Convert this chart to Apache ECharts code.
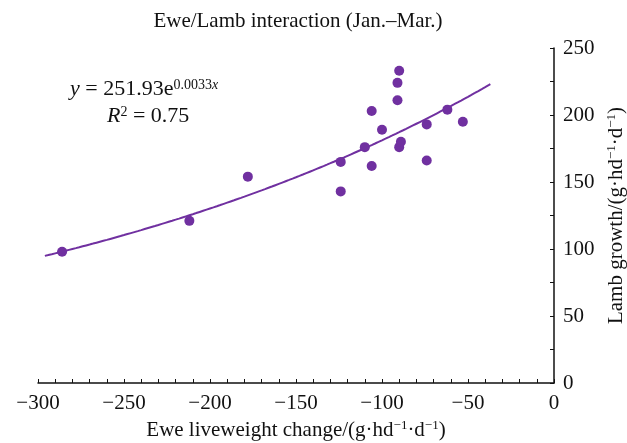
<!DOCTYPE html>
<html>
<head>
<meta charset="utf-8">
<script src="https://cdn.jsdelivr.net/npm/echarts@6/dist/echarts.min.js"></script>
<style>
  html, body { margin: 0; padding: 0; background: #fff; }
  #chart { width: 627px; height: 443px; }
</style>
</head>
<body>
<div id="chart"></div>
<script>
// Ewe liveweight change (g/hd/d) and lamb growth (g/hd/d)
const eweChange = [-286, -212, -178, -124, -124, -110, -106, -106, -100, -91, -91, -90, -90, -89, -74, -74, -62, -53];
const lambGrowth = [98, 121, 154, 165, 143, 176, 203, 162, 189, 224, 211, 233, 176, 180, 193, 166, 204, 195];

// fitted trend: y = 251.93 e^(0.0033 x), drawn over the range shown
const fitA = 251.93;
const fitB = 0.0033;
const fitRange = [-296, -37];

const color = '#7030a0';
const font = 'Liberation Serif';
const fs = 21;

const chart = echarts.init(document.getElementById('chart'));

const points = eweChange.map((x, i) => [x, lambGrowth[i]]);
const trend = [];
for (let x = fitRange[0]; x <= fitRange[1]; x += 1) {
    trend.push([x, fitA * Math.exp(fitB * x)]);
}

const minus = (v) => (v < 0 ? '\u2212' + (-v) : String(v));
const supRich = {
    s: { fontFamily: font, fontSize: 13, verticalAlign: 'top', padding: [0, 0, 9, 0], color: '#111' }
};

chart.setOption({
    animation: false,
    title: {
        text: 'Ewe/Lamb interaction (Jan.\u2013Mar.)',
        left: 293,
        textAlign: 'center',
        top: 6,
        textStyle: { fontFamily: font, fontSize: fs, fontWeight: 'normal', color: '#111' }
    },
    grid: { left: 38, right: 73, top: 48, bottom: 60, outerBoundsMode: 'none' },
    xAxis: {
        type: 'value',
        min: -300,
        max: 0,
        interval: 50,
        name: 'Ewe liveweight change/(g\u00b7hd{s|\u22121}\u00b7d{s|\u22121})',
        nameLocation: 'middle',
        nameGap: 36,
        nameTextStyle: { fontFamily: font, fontSize: fs, color: '#111', rich: supRich },
        splitLine: { show: false },
        axisLine: { onZero: false, lineStyle: { color: '#111', width: 1.5 } },
        axisTick: { inside: true, length: 4, lineStyle: { color: '#111' } },
        minorTick: { show: true, splitNumber: 5, length: 4, lineStyle: { color: '#111' } },
        axisLabel: { formatter: minus, fontFamily: font, fontSize: fs, color: '#111', margin: 10 }
    },
    yAxis: {
        type: 'value',
        position: 'right',
        min: 0,
        max: 250,
        interval: 50,
        name: 'Lamb growth/(g\u00b7hd{s|\u22121}\u00b7d{s|\u22121})',
        nameLocation: 'middle',
        nameRotate: 90,
        nameGap: 50,
        nameTextStyle: { fontFamily: font, fontSize: fs, color: '#111', rich: supRich },
        splitLine: { show: false },
        axisLine: { show: true, onZero: false, lineStyle: { color: '#111', width: 1.5 } },
        axisTick: { inside: true, length: 4, lineStyle: { color: '#111' } },
        minorTick: { show: true, splitNumber: 2, length: 4, lineStyle: { color: '#111' } },
        axisLabel: { fontFamily: font, fontSize: fs, color: '#111', margin: 9 }
    },
    graphic: [
        {
            type: 'text',
            left: 70,
            top: 78,
            style: {
                text: '{i|y} = 251.93e{s|0.0033}{si|x}',
                fontFamily: font,
                fontSize: 22,
                fill: '#111',
                rich: {
                    i: { fontFamily: font, fontSize: 22, fontStyle: 'italic' },
                    s: { fontFamily: font, fontSize: 14, verticalAlign: 'top', padding: [0, 0, 9, 0] },
                    si: { fontFamily: font, fontSize: 14, fontStyle: 'italic', verticalAlign: 'top', padding: [0, 0, 9, 0] }
                }
            }
        },
        {
            type: 'text',
            left: 107,
            top: 105,
            style: {
                text: '{i|R}{s|2} = 0.75',
                fontFamily: font,
                fontSize: 22,
                fill: '#111',
                rich: {
                    i: { fontFamily: font, fontSize: 22, fontStyle: 'italic' },
                    s: { fontFamily: font, fontSize: 14, verticalAlign: 'top', padding: [0, 0, 9, 0] }
                }
            }
        }
    ],
    series: [
        {
            type: 'line',
            data: trend,
            showSymbol: false,
            smooth: false,
            lineStyle: { color: color, width: 2 },
            z: 2
        },
        {
            type: 'scatter',
            data: points,
            symbolSize: 10,
            itemStyle: { color: color, opacity: 1 },
            z: 3
        }
    ]
});
</script>
</body>
</html>
